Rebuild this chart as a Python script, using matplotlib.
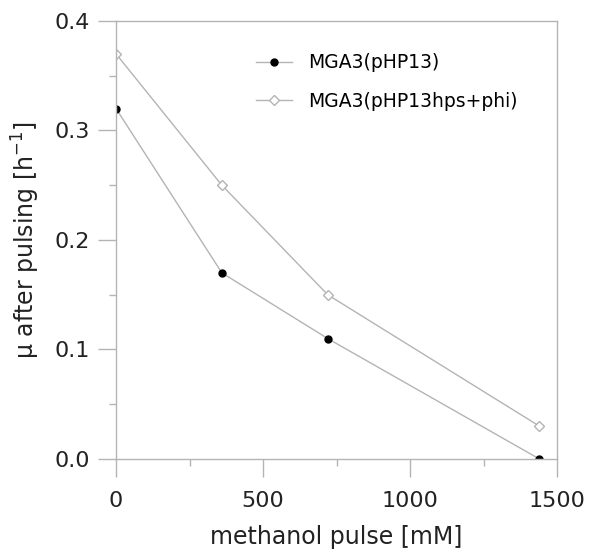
import numpy as np
import matplotlib.pyplot as plt
from matplotlib.ticker import MultipleLocator

# datos
pulse = [0, 360, 720, 1440]
mu_php13 = [0.32, 0.17, 0.11, 0.0]
mu_hps_phi = [0.37, 0.25, 0.15, 0.03]
labels = ['MGA3(pHP13)', 'MGA3(pHP13hps+phi)']

gris = '#b4b4b4'
plt.rcParams['font.family'] = 'DejaVu Sans'

fig = plt.figure(figsize=(5.91, 5.52), dpi=100)
ax = fig.add_axes([0.1963, 0.1685, 0.7462, 0.7935])

ax.plot(pulse, mu_php13, '-o', color=gris, lw=1, mfc='black', mec='black',
        ms=5, label=labels[0])
ax.plot(pulse, mu_hps_phi, '-D', color=gris, lw=1, mfc='white', mec=gris,
        ms=5, label=labels[1])

ax.set_xlim(0, 1500)
ax.set_ylim(0, 0.4)
ax.xaxis.set_major_locator(MultipleLocator(500))
ax.xaxis.set_minor_locator(MultipleLocator(250))
ax.yaxis.set_major_locator(MultipleLocator(0.1))
ax.yaxis.set_minor_locator(MultipleLocator(0.05))
ax.yaxis.set_major_formatter(plt.FormatStrFormatter('%.1f'))

for s in ax.spines.values():
    s.set_color(gris)
    s.set_linewidth(1)
ax.tick_params(which='both', direction='out', color=gris, width=1,
               labelsize=16, labelcolor='#222222')
ax.tick_params(which='major', length=13)
ax.tick_params(which='minor', length=5)
ax.tick_params(axis='x', pad=10)
ax.tick_params(axis='y', pad=6)

ax.set_xlabel('methanol pulse [mM]', fontsize=17, color='#222222', labelpad=10)
ax.set_ylabel('μ after pulsing [h$^{\\mathregular{-1}}$]', fontsize=17,
              color='#222222', labelpad=9)

ax.legend(loc='upper left', bbox_to_anchor=(0.28, 0.965), frameon=False,
          fontsize=13.5, handlelength=1.9, labelspacing=1.05, handletextpad=0.85)

plt.savefig('out.png', dpi=100)
